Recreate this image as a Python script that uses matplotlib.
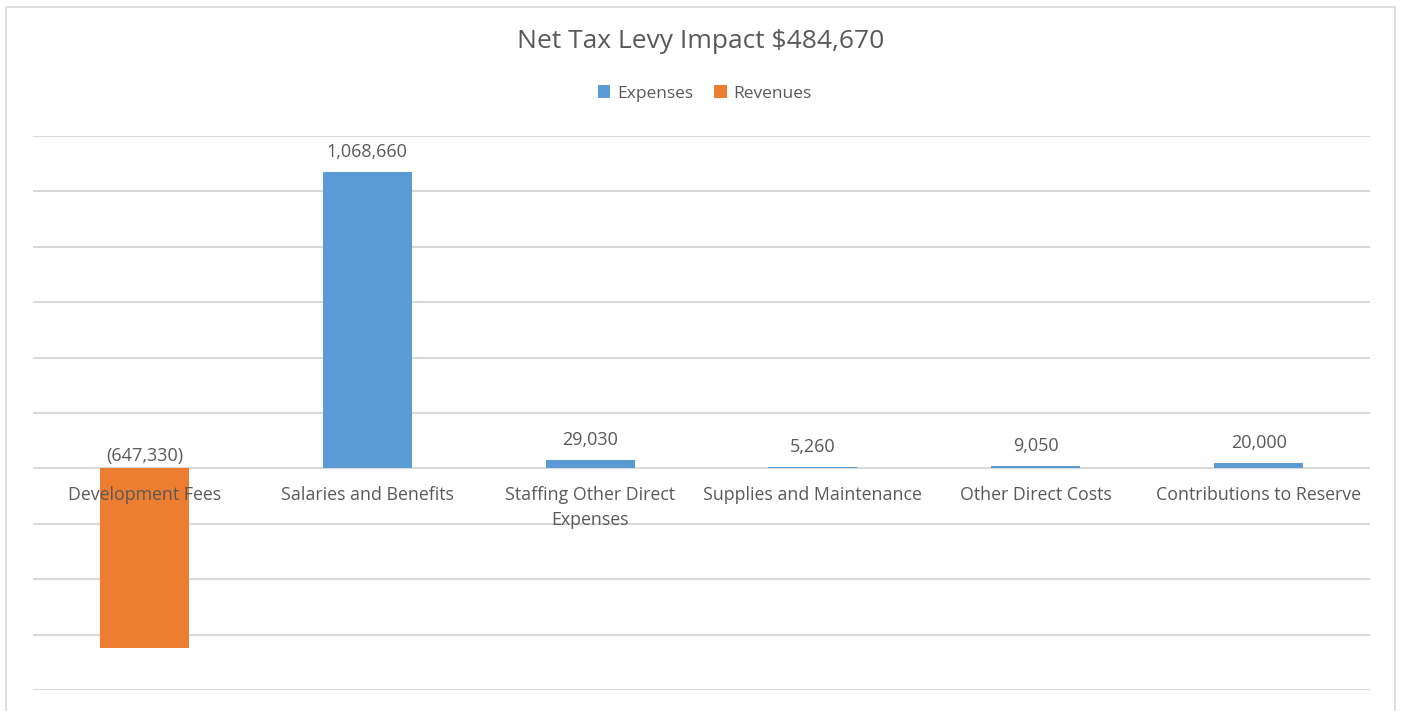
import matplotlib
matplotlib.use("Agg")
import matplotlib.pyplot as plt
from matplotlib.patches import Rectangle
import numpy as np

categories = ["Development Fees", "Salaries and Benefits", "Staffing Other Direct\nExpenses",
              "Supplies and Maintenance", "Other Direct Costs", "Contributions to Reserve"]
expenses = [np.nan, 1068660, 29030, 5260, 9050, 20000]
revenues = [-647330, np.nan, np.nan, np.nan, np.nan, np.nan]
labels = ["(647,330)", "1,068,660", "29,030", "5,260", "9,050", "20,000"]
title = "Net Tax Levy Impact $484,670"

W, H = 1401, 711
fig = plt.figure(figsize=(W / 100, H / 100), dpi=100)
plt.rcParams['font.family'] = ['Open Sans', 'DejaVu Sans']
FONT = 'Open Sans'
TXT = '#595959'

# chart frame
fig.patches.append(Rectangle((6 / W, -0.01), (1395 - 6) / W, 1 - 7 / H + 0.01,
                             transform=fig.transFigure, fill=False,
                             edgecolor='#d9d9d9', linewidth=1.2, zorder=0))

left, right, top, bottom = 33, 1370, 136, 690
ax = fig.add_axes([left / W, 1 - bottom / H, (right - left) / W, (bottom - top) / H])
x = np.arange(len(categories))
ax.set_xlim(-0.5, len(categories) - 0.5)
ax.set_ylim(-800000, 1200000)
for g in np.arange(-800000, 1200001, 200000):
    ax.axhline(g, color='#d9d9d9', linewidth=1.5, zorder=0)

ax.bar(x, expenses, width=0.4, color='#5B9BD5', zorder=2, label='Expenses')
ax.bar(x, revenues, width=0.4, color='#ED7D31', zorder=2, label='Revenues')

for spine in ax.spines.values():
    spine.set_visible(False)
ax.set_xticks([])
ax.set_yticks([])

# data labels
for i in range(len(categories)):
    v = expenses[i] if not np.isnan(expenses[i]) else 0
    off = 8 if v > 0 else 2.5
    ax.annotate(labels[i], (x[i], max(v, 0)), xytext=(0, off), textcoords='offset points',
                ha='center', va='bottom', fontsize=13, color=TXT, family=FONT)

# category labels
for i, c in enumerate(categories):
    ax.annotate(c, (x[i], 0), xytext=(0, -12.5), textcoords='offset points',
                ha='center', va='top', fontsize=12.8, color=TXT, family=FONT,
                linespacing=1.5, zorder=3)

fig.text(0.5 * (518 + 884) / W, 1 - 42 / H, title, ha='center', va='center',
         fontsize=19, color=TXT, family=FONT)

fig.legend(loc='center', bbox_to_anchor=(705 / W, 1 - 93.5 / H), ncol=2,
           frameon=False, handlelength=0.7, handleheight=0.7,
           handletextpad=0.4, columnspacing=1.2,
           labelcolor=TXT, prop={'family': FONT, 'size': 12.5})

fig.savefig("out.png", dpi=100)
